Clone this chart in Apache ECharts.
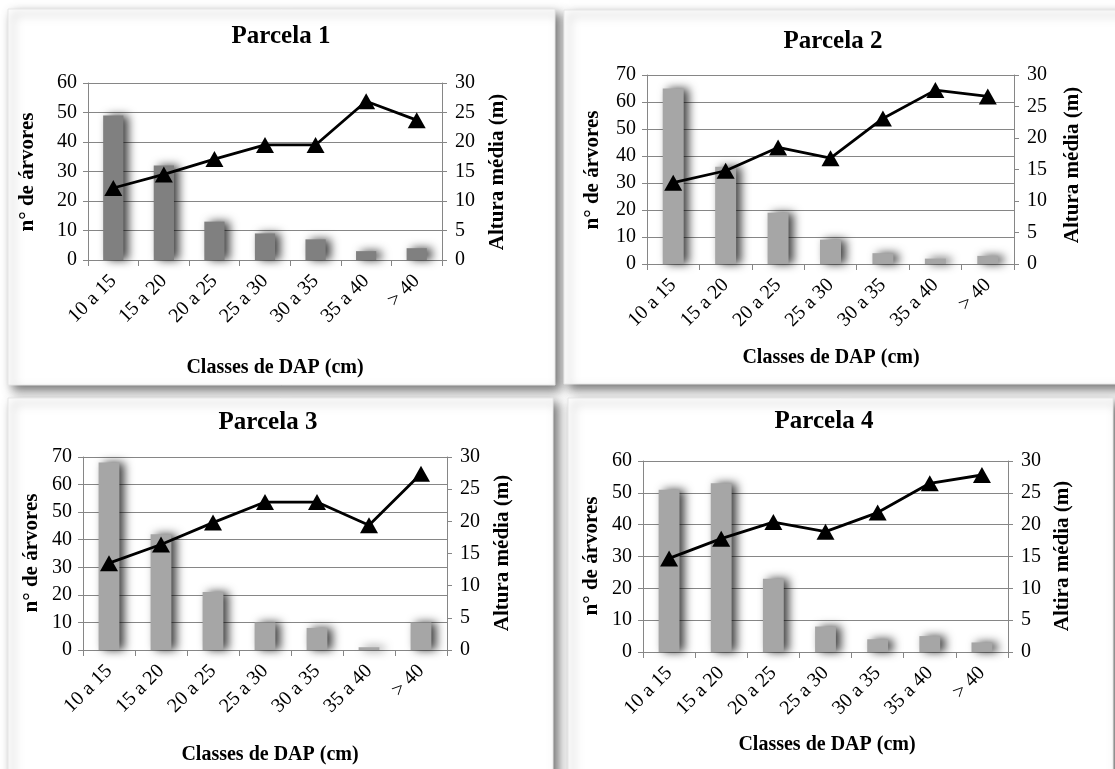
<!DOCTYPE html>
<html>
<head>
<meta charset="utf-8">
<script src="https://cdn.jsdelivr.net/npm/echarts@6/dist/echarts.min.js"></script>
<style>
html,body{margin:0;padding:0;background:#fff;}
#c{width:1115px;height:769px;}
</style>
</head>
<body>
<div id="c"></div>
<script>
const categories = ['10 a 15','15 a 20','20 a 25','25 a 30','30 a 35','35 a 40','> 40'];
const titles = ['Parcela 1','Parcela 2','Parcela 3','Parcela 4'];
const leftNames = ['n° de árvores','n° de árvores','n° de árvores','n° de árvores'];
const rightNames = ['Altura média (m)','Altura média (m)','Altura média (m)','Altira média (m)'];
const xNames = ['Classes de DAP (cm)','Classes de DAP (cm)','Classes de DAP (cm)','Classes de DAP (cm)'];

const p1Arvores = [49,32,13,9,7,3,4];
const p1Altura  = [12.2,14.5,17.1,19.5,19.5,26.9,23.7];
const p2Arvores = [65,36,19,9,4,2,3];
const p2Altura  = [12.9,14.8,18.5,16.8,23.1,27.6,26.6];
const p3Arvores = [68,42,21,10,8,1,10];
const p3Altura  = [13.5,16.4,19.8,23.0,23.0,19.4,27.4];
const p4Arvores = [51,53,23,8,4,5,3];
const p4Altura  = [14.7,17.8,20.4,18.9,21.9,26.5,27.8];

const leftMax = [60,70,70,60];
const rightMax = [30,30,30,30];

const arvores = [p1Arvores,p2Arvores,p3Arvores,p4Arvores];
const altura = [p1Altura,p2Altura,p3Altura,p4Altura];

const grids = [
  {left:88, top:83, width:354, height:177},
  {left:647, top:75, width:367, height:189},
  {left:83, top:457, width:364, height:193},
  {left:643, top:461, width:365, height:191}
];
const frames = [
  {x:8, y:9, w:547, h:376},
  {x:564, y:10, w:560, h:374},
  {x:8, y:398, w:545, h:380},
  {x:568, y:398, w:545, h:380}
];
const titlePos = [[281,37],[833,42],[268,423],[824,422]];
const xNamePos = [[275,368],[831,358],[270,755],[827,745]];
const leftNamePos = [[28,172],[593,170],[32,553],[592,556]];
const rightNamePos = [[498,172],[1073,165],[503,553],[1063,556]];
const barColors = ['#808080','#a6a6a6','#a6a6a6','#a6a6a6'];

const FONT = '"Liberation Serif", "Times New Roman", "DejaVu Serif", serif';
const axisColor = '#868686';

const graphic = [];
frames.forEach(f => {
  graphic.push({type:'rect', z:-100, silent:true,
    shape:{x:f.x,y:f.y,width:f.w,height:f.h},
    style:{fill:'#fff', stroke:'#e6e6e6', lineWidth:1,
      shadowBlur:10, shadowColor:'rgba(0,0,0,0.55)', shadowOffsetX:5, shadowOffsetY:5}});
});
function txt(s, p, size, rot){
  return {type:'text', z:100, silent:true, x:p[0], y:p[1], rotation:rot||0,
    style:{text:s, font:'bold '+size+'px '+FONT, fill:'#000',
      textAlign:'center', textVerticalAlign:'middle', align:'center', verticalAlign:'middle'}};
}
for (let i=0;i<4;i++){
  graphic.push(txt(titles[i], titlePos[i], 25, 0));
  graphic.push(txt(xNames[i], xNamePos[i], 20, 0));
  graphic.push(txt(leftNames[i], leftNamePos[i], 21, Math.PI/2));
  graphic.push(txt(rightNames[i], rightNamePos[i], 21, Math.PI/2));
}

const xAxis = [], yAxis = [], series = [];
for (let i=0;i<4;i++){
  xAxis.push({type:'category', gridIndex:i, data:categories,
    axisLine:{show:true, lineStyle:{color:axisColor, width:1}},
    axisTick:{show:true, length:6, lineStyle:{color:axisColor}},
    axisLabel:{rotate:45, fontFamily:FONT, fontSize:20, color:'#000', margin:18, interval:0},
    splitLine:{show:false}});
  yAxis.push({type:'value', gridIndex:i, min:0, max:leftMax[i], interval:10, position:'left',
    axisLine:{show:true, lineStyle:{color:axisColor, width:1}},
    axisTick:{show:true, length:5, lineStyle:{color:axisColor}},
    axisLabel:{fontFamily:FONT, fontSize:20, color:'#000', margin:11},
    splitLine:{show:true, lineStyle:{color:axisColor, width:1}}});
  yAxis.push({type:'value', gridIndex:i, min:0, max:rightMax[i], interval:5, position:'right',
    axisLine:{show:true, lineStyle:{color:axisColor, width:1}},
    axisTick:{show:true, length:5, lineStyle:{color:axisColor}},
    axisLabel:{fontFamily:FONT, fontSize:20, color:'#000', margin:13},
    splitLine:{show:false}});
  series.push({type:'bar', xAxisIndex:i, yAxisIndex:2*i, data:arvores[i], barWidth:'40%',
    itemStyle:{color:barColors[i], shadowBlur:10, shadowColor:'rgba(0,0,0,0.75)', shadowOffsetX:5, shadowOffsetY:0},
    z:2, silent:true});
  series.push({type:'line', xAxisIndex:i, yAxisIndex:2*i+1, data:altura[i],
    symbol:'triangle', symbolSize:[18,16], showAllSymbol:true,
    lineStyle:{color:'#000', width:2.8}, itemStyle:{color:'#000'},
    z:5, silent:true});
}

const chart = echarts.init(document.getElementById('c'), null, {renderer:'canvas'});
chart.setOption({
  animation:false,
  backgroundColor:'#fff',
  grid: grids.map(g => Object.assign({containLabel:false}, g)),
  xAxis, yAxis, series, graphic
});
</script>
</body>
</html>
